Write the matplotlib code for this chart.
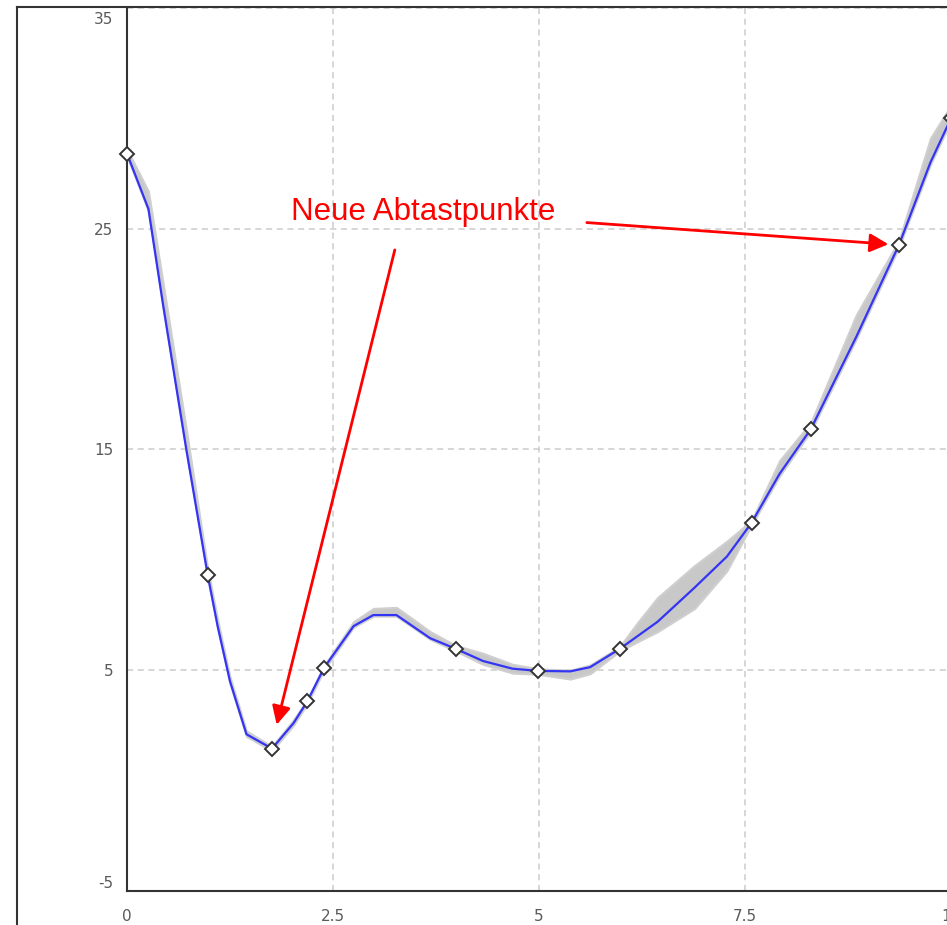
import matplotlib.pyplot as plt
from matplotlib.lines import Line2D
from matplotlib.transforms import offset_copy

# Interpolierte Kurve mit Unsicherheitsband
kurve_x = [0.00, 0.26, 0.44, 0.72, 0.98, 1.10, 1.25, 1.45, 1.76, 2.02, 2.19, 2.39, 2.75, 2.99, 3.27, 3.68, 3.99, 4.32,
           4.68, 4.99, 5.38, 5.62, 5.98, 6.19, 6.44, 6.89, 7.28, 7.58, 7.92, 8.30, 8.85, 9.37, 9.75, 10.0]
kurve_y = [28.4, 25.9, 21.5, 15.0, 9.3, 7.0, 4.5, 2.1, 1.45, 2.6, 3.6, 5.1, 7.0, 7.5, 7.5, 6.45, 5.97, 5.42,
           5.07, 4.97, 4.95, 5.14, 5.97, 6.53, 7.2, 8.75, 10.15, 11.68, 13.9, 15.93, 20.1, 24.28, 28.0, 30.0]
band_oben = [0.2, 0.8, 1.0, 0.9, 0.3, 0.3, 0.2, 0.15, 0.1, 0.15, 0.1, 0.1, 0.2, 0.3, 0.35, 0.3, 0.15, 0.35,
             0.2, 0.1, 0.05, 0.1, 0.1, 0.6, 1.1, 1.0, 0.7, 0.1, 0.6, 0.3, 1.0, 0.2, 1.1, 0.6]
band_unten = [0.1, 0.1, 0.1, 0.1, 0.1, 0.1, 0.1, 0.1, 0.1, 0.1, 0.1, 0.1, 0.05, 0.05, 0.05, 0.05, 0.1, 0.15,
              0.2, 0.15, 0.35, 0.3, 0.1, 0.25, 0.45, 0.95, 0.65, 0.1, 0.1, 0.1, 0.1, 0.1, 0.1, 0.1]

# Abtastpunkte
punkte_x = [0.0, 0.98, 1.76, 2.19, 2.39, 3.99, 4.99, 5.98, 7.58, 8.30, 9.37, 10.0]
punkte_y = [28.4, 9.3, 1.45, 3.6, 5.1, 5.97, 4.97, 5.97, 11.68, 15.93, 24.28, 30.0]

x_ticks = [0, 2.5, 5, 7.5, 10]
x_labels = ['0', '2.5', '5', '7.5', '10']
y_ticks = [-5, 5, 15, 25, 35]
y_labels = ['-5', '5', '15', '25', '35']

fig = plt.figure(figsize=(9.47, 9.25), dpi=100)
ax = fig.add_axes([127 / 947, 34 / 925, 824 / 947, 883 / 925])

unten = [y - d for y, d in zip(kurve_y, band_unten)]
oben = [y + d for y, d in zip(kurve_y, band_oben)]
ax.fill_between(kurve_x, unten, oben, color='#c8c8c8', lw=1.5, edgecolor='#cfcfcf', zorder=2)
ax.plot(kurve_x, kurve_y, color='#3434f4', lw=1.6, zorder=3)
ax.plot(punkte_x, punkte_y, ls='none', marker='D', ms=7, mfc='white', mec='#333333', mew=1.4,
        zorder=5, clip_on=False)

ax.set_xlim(0, 10)
ax.set_ylim(-5, 35)
ax.set_xticks(x_ticks, x_labels)
ax.set_yticks(y_ticks, y_labels)
ax.grid(True, color='#cccccc', lw=1.1, ls=(0, (4, 3)), zorder=1)
ax.tick_params(axis='both', length=0, labelsize=11, labelcolor='#5a5a5a')
ax.tick_params(axis='x', pad=13)
ax.tick_params(axis='y', pad=10)
yl = ax.get_yticklabels()
yl[-1].set_va('top')
yl[-1].set_transform(offset_copy(yl[-1].get_transform(), fig=fig, y=-4, units='dots'))
yl[0].set_va('bottom')

for s in ['top', 'right']:
    ax.spines[s].set_visible(False)
for s in ['left', 'bottom']:
    ax.spines[s].set_color('#333333')
    ax.spines[s].set_linewidth(1.5)

# äußerer Rahmen
fig.add_artist(Line2D([17 / 947, 17 / 947], [0, 1 - 7 / 925], transform=fig.transFigure,
                      color='#333333', lw=1.5))
fig.add_artist(Line2D([17 / 947, 1], [1 - 7 / 925, 1 - 7 / 925], transform=fig.transFigure,
                      color='#333333', lw=1.5))

# Beschriftung mit Pfeilen
ax.text(3.60, 25.4, 'Neue Abtastpunkte', color='red', fontsize=22.5, family='Liberation Sans',
        ha='center', va='baseline', zorder=6)
pfeil = dict(arrowstyle='-|>', color='red', lw=2, mutation_scale=28, shrinkA=0, shrinkB=0)
ax.annotate('', xy=(1.817, 2.53), xytext=(3.25, 24.04), arrowprops=pfeil, zorder=6)
ax.annotate('', xy=(9.24, 24.30), xytext=(5.58, 25.28), arrowprops=pfeil, zorder=6)

fig.savefig('out.png', dpi=100)
